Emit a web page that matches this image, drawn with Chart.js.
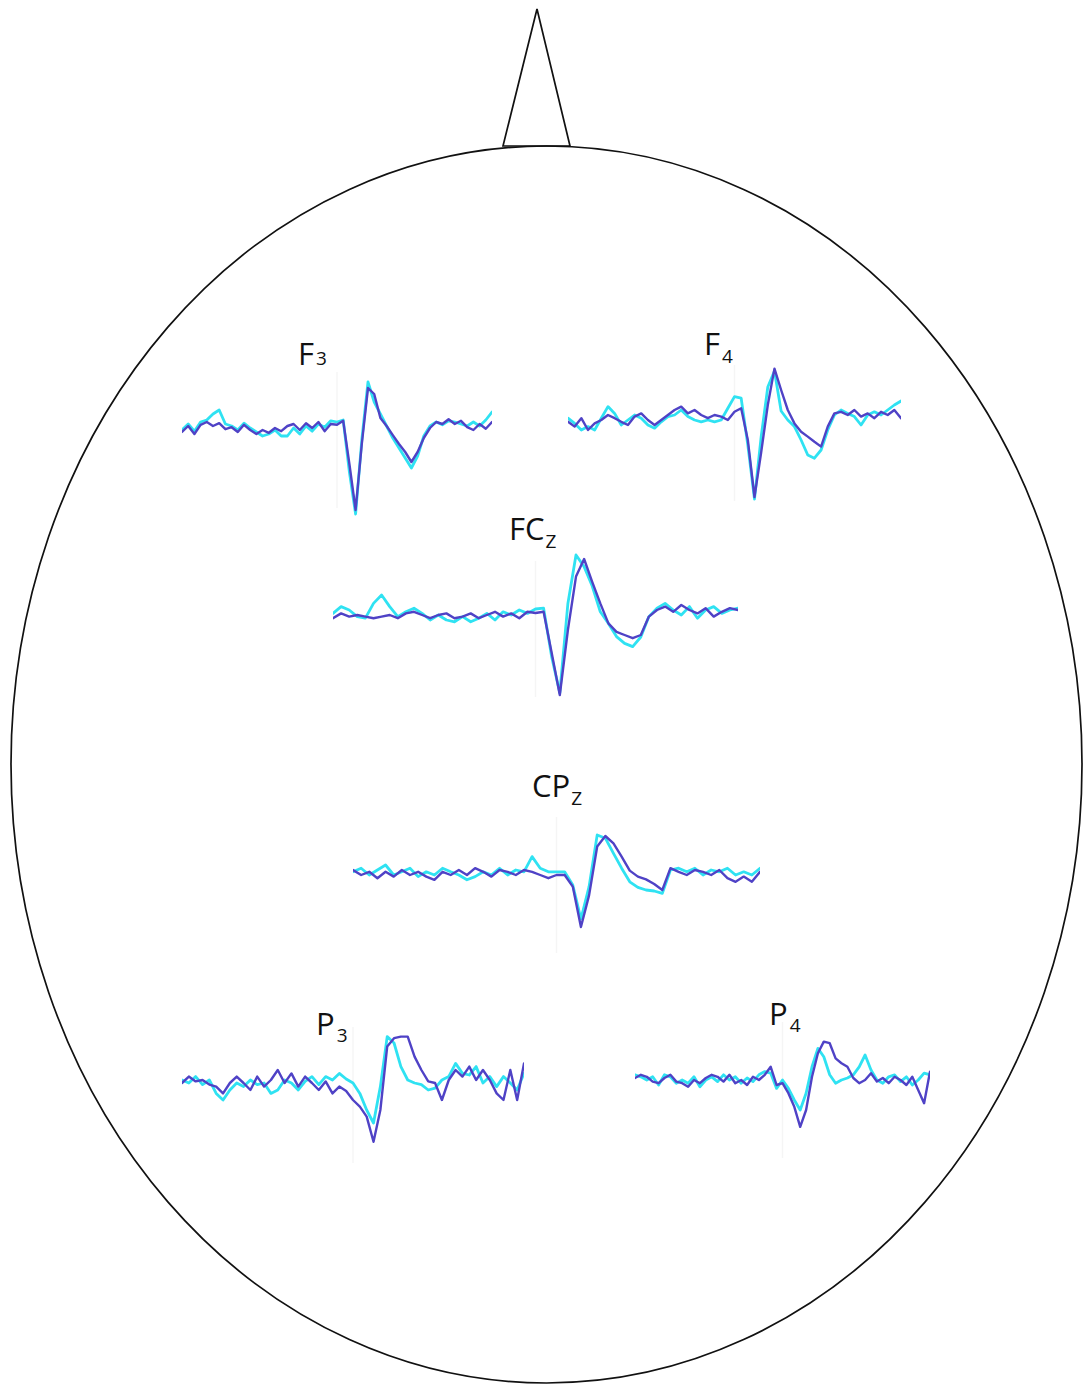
<!DOCTYPE html>
<html>
<head>
<meta charset="utf-8">
<title>Evoked responses on scalp map</title>
<script src="https://cdn.jsdelivr.net/npm/chart.js@4.4.0/dist/chart.umd.min.js"></script>
<style>
    body { margin: 0; background: #fff; }
    #stage { position: relative; width: 1086px; height: 1387px; overflow: hidden; }
    #head { position: absolute; left: 0; top: 0; }
    .trace { position: absolute; }
    .label { font-family: "Open Sans", "DejaVu Sans", sans-serif; fill: #111; }
</style>
</head>
<body>
<div id="stage">
    <svg id="head" width="1086" height="1387" viewBox="0 0 1086 1387">
        <polygon points="503,146 537,9 570,146" fill="none" stroke="#111" stroke-width="1.7" stroke-linejoin="miter"/>
        <ellipse cx="546.5" cy="764.5" rx="535.5" ry="618.5" fill="none" stroke="#111" stroke-width="1.7"/>
        <text class="label" x="298" y="365" font-size="31">F<tspan font-size="19" dx="2" dy="0">3</tspan></text>
        <text class="label" x="704" y="355" font-size="31">F<tspan font-size="19" dx="2" dy="8">4</tspan></text>
        <text class="label" x="509" y="540" font-size="31">FC<tspan font-size="19" dx="1" dy="8">Z</tspan></text>
        <text class="label" x="532" y="797" font-size="31">CP<tspan font-size="19" dx="1" dy="8">Z</tspan></text>
        <text class="label" x="316" y="1035" font-size="31">P<tspan font-size="19" dx="2" dy="7">3</tspan></text>
        <text class="label" x="769" y="1025" font-size="31">P<tspan font-size="19" dx="2" dy="7">4</tspan></text>
    </svg>
</div>
<script>
// --- Data (time in ms relative to stimulus, amplitude in µV) ---
const timeMs = [-250, -240, -230, -220, -210, -200, -190, -180, -170, -160,
    -150, -140, -130, -120, -110, -100, -90, -80, -70, -60,
    -50, -40, -30, -20, -10, 0, 10, 20, 30, 40,
    50, 60, 70, 80, 90, 100, 110, 120, 130, 140,
    150, 160, 170, 180, 190, 200, 210, 220, 230, 240, 250];

const electrodes = ['F3', 'F4', 'FCz', 'CPz', 'P3', 'P4'];

// condition A (dark purple-blue) and condition B (cyan)
const f3Dark = [-1.0, 0.5, -1.5, 0.8, 1.5, 0.5, 1.2, -0.3, 0.2, -1.0, 0.8, -0.5, -1.5, -0.5, -1.2, 0.0, -0.8, 0.5, 1.0, -0.5, 1.2, 0.0, 1.5, -0.8, 1.0,
    0.8, 1.8, -9, -20.5, -4, 10, 8.5, 2.5, 0.5, -1.8, -4, -6, -8.5, -6, -2.5, 0.0, 1.5, 1.0, 2.2, 1.0, 1.8, 0.2, -0.5, 1.0, -0.2, 1.5];
const f3Cyan = [-0.5, 1.0, -0.8, 1.5, 2.0, 3.5, 4.5, 1.0, 0.5, -0.5, 1.2, 0.0, -1.0, -2.0, -1.5, -0.5, -2.0, -2.0, 0.0, -1.5, 0.5, -0.8, 1.0, 0.2, 1.8,
    1.5, 2.0, -11, -21.5, -3, 11.5, 6.5, 3.5, 0.5, -2.5, -5, -7.5, -10, -7, -2, 0.5, 1.5, 0.8, 1.8, 1.5, 1.0, 0.5, 1.5, 0.5, 2.0, 4.0];

const f4Dark = [-0.2, -1.4, 0.7, -2.25, -0.6, 0.25, 1.5, 0.7, -0.2, -1.0, 1.1, 1.9, 0.25, -1.0, 0.25, 1.5, 2.75, 3.6, 1.9, 2.75, 1.5, 0.7, 1.5, 1.1, 0.25,
    2.3, 3.2, -4.75, -19, -7.9, 4, 13.1, 7.75, 2.75, -0.6, -2.7, -3.9, -5.2, -6.4, -1.4, 1.9, 2.3, 1.5, 2.75, 1.1, 1.9, 0.7, 2.3, 1.5, 2.75, 0.7];
const f4Cyan = [0.7, -0.6, -2.25, -1.4, -2.25, 0.7, 3.6, 1.9, -1.0, 0.25, 1.5, 0.7, -1.0, -1.8, -0.2, 1.1, 1.5, 2.75, 1.1, 0.25, -0.2, 0.25, -0.2, 0.25, 3.2,
    6.1, 5.7, -6, -19.5, -4, 8.5, 12.5, 2.5, 0.25, -1.4, -4.75, -8.5, -9.3, -7.25, -2.25, 1.5, 2.75, 1.9, 1.1, -1.0, 1.5, 2.3, 1.5, 2.75, 4.0, 5.0];

const fczDark = [-0.3, 0.9, 0.1, 0.5, 0.1, -0.3, 0.1, 0.5, -0.3, 0.9, 1.3, 0.5, -0.3, 0.5, 0.9, -0.3, 0.1, 0.9, -0.3, 0.5, 1.3, 0.1, 0.9, -0.3, 1.3,
    1.0, 1.3, -9, -19.5, -3.25, 10.1, 14.5, 8.8, 3.4, -1.6, -3.7, -4.5, -5.3, -4.5, 0.1, 1.75, 2.6, 1.3, 3.0, 1.75, 0.9, 2.2, 0.1, 1.3, 2.2, 1.75];
const fczCyan = [0.9, 2.6, 1.75, 0.1, -0.3, 3.4, 5.5, 2.6, 0.1, 1.3, 2.2, 0.9, -0.75, 0.5, -0.75, -1.2, 0.1, -1.2, -0.3, 0.9, -0.75, 1.3, 0.5, 1.75, 0.9,
    2.0, 2.2, -10, -19, 3.4, 15.5, 12.6, 7.75, 1.3, -1.6, -4.9, -6.6, -7.4, -5, 0.1, 2.2, 3.4, 1.75, 0.5, 2.6, -0.3, 1.75, 2.6, 0.9, 1.75, 2.2];

const cpzDark = [0.75, -0.5, 0.3, -1.3, 0.3, -0.9, 0.75, -0.5, 0.3, -0.9, -1.7, 0.3, -0.5, 0.75, -0.5, 1.2, 0.3, -0.9, 0.75, 0.3, -0.5, 0.75, 0.3, -0.5, -1.3,
    -0.5, -0.5, -3.4, -13.5, -5.6, 6.6, 9.25, 7.4, 4.1, 0.6, -0.9, -1.6, -2.75, -4.25, 1.2, 0.3, -0.5, 0.75, 0.3, -0.5, 0.75, -1.3, -2.2, -0.9, -2.2, 0.3];
const cpzCyan = [0.3, 1.2, -0.5, 0.75, 2.0, -0.5, 0.3, 1.2, -0.9, 0.3, -0.5, 1.2, 0.3, -0.5, -1.7, -0.9, 0.3, -0.5, 1.2, -0.5, 0.75, 0.3, 4.1, 1.2, 0.3,
    0.3, 0.3, -3, -11.5, -3.4, 9.5, 8.7, 4.9, 1.2, -2.2, -3.6, -4.25, -4.5, -5.1, 0.75, 1.2, 0.3, 1.2, -0.5, 0.75, 0.3, 1.2, -0.5, 0.3, -0.5, 1.2];

const p3Dark = [0.0, 1.6, 0.4, 0.75, -0.4, -0.9, -2.6, 0.0, 1.6, 0.0, -1.75, 1.6, -0.9, 0.75, 3.25, 0.0, 2.4, -0.9, 1.6, 0.0, -1.75, 0.4, -2.6, -0.9, -2.0,
    -4.25, -5.9, -8.4, -14.7, -6.75, 9.1, 11.2, 11.6, 11.6, 6.6, 3.25, 0.4, 0.0, -4.25, 0.75, 3.25, 1.6, 4.1, 0.75, 3.25, 0.75, -2.6, -4.25, 3.25, -4.25, 4.9];
const p3Cyan = [0.75, 0.0, 1.6, -0.4, 0.75, -2.6, -4.25, -1.75, 0.0, -0.9, 0.75, -0.4, 0.0, -2.6, -1.75, 0.75, 0.0, -1.75, 0.4, 1.6, -0.4, 1.6, 0.75, 2.4, 1.0,
    0.0, -2.6, -6.75, -10, -0.9, 11.6, 10, 4.1, 0.75, 0.0, -0.4, -1.75, -1.3, 0.75, 1.6, 4.9, 2.4, 2.0, 4.1, 0.0, 1.6, -0.9, 1.6, 0.0, -1.75, 2.4];

const p4Dark = [0, 0.8, 0.3, -0.9, -1.3, 0, 0.8, -0.9, -1.3, -2.2, -0.5, -1.3, 0, 0.8, 0.3, -0.9, 0.8, -1.3, -0.5, -1.75, 0.3, -0.5, 0.8, 2.8, -1.75,
    -1.3, -3.8, -7.2, -12.2, -8, 0.3, 6.2, 9.1, 8.7, 4.9, 3.7, 2.8, 0, -1.3, -0.5, 1.2, -0.9, 0, -1.3, 0.3, -0.5, -1.75, 0.3, -3, -6.3, 1.6];
const p4Cyan = [0.8, 0.3, -0.5, 0.3, -1.75, 0.8, 0.3, -1.3, -0.5, -1.3, 0.3, -2.2, -0.5, 0.3, -0.9, 0.8, -0.5, 0.3, -1.3, 0, -0.9, 0.8, 1.6, 1.2, -2.6,
    -0.5, -2.6, -5.5, -8, -3.8, 2.8, 7.4, 5.3, 0.8, -1.3, -0.5, 0, 0.8, 2.8, 5.75, 2.0, -0.5, -1.3, 0.3, 0.8, -0.9, 0.3, -1.75, -0.5, 1.2, 0.8];

const seriesByElectrode = {
    F3: [f3Dark, f3Cyan],
    F4: [f4Dark, f4Cyan],
    FCz: [fczDark, fczCyan],
    CPz: [cpzDark, cpzCyan],
    P3: [p3Dark, p3Cyan],
    P4: [p4Dark, p4Cyan]
};

// --- Layout (pixel box of each trace on the head) ---
const layout = {
    F3: { left: 182, top: 348, width: 310 },
    F4: { left: 568, top: 341, width: 333 },
    FCz: { left: 333, top: 537, width: 405 },
    CPz: { left: 353, top: 793, width: 407 },
    P3: { left: 182, top: 1003, width: 342 },
    P4: { left: 635, top: 998, width: 295 }
};
const TRACE_HEIGHT = 180;   // 4 px per µV over -25..20 µV
const DARK = '#4f42c6';
const CYAN = '#2fe2f2';

// very faint vertical marker at stimulus onset
const stimLinePlugin = {
    id: 'stimLine',
    beforeDatasetsDraw(chart) {
        const { ctx, scales: { x, y } } = chart;
        const px = x.getPixelForValue(0);
        ctx.save();
        ctx.strokeStyle = 'rgba(0,0,0,0.04)';
        ctx.lineWidth = 1.5;
        ctx.beginPath();
        ctx.moveTo(px, y.getPixelForValue(14));
        ctx.lineTo(px, y.getPixelForValue(-20));
        ctx.stroke();
        ctx.restore();
    }
};

function toPoints(values) {
    return values.map((v, i) => ({ x: timeMs[i], y: v }));
}

// --- Chart Rendering ---
const stage = document.getElementById('stage');

electrodes.forEach(name => {
    const box = layout[name];
    const wrap = document.createElement('div');
    wrap.className = 'trace';
    wrap.style.left = box.left + 'px';
    wrap.style.top = box.top + 'px';
    wrap.style.width = box.width + 'px';
    wrap.style.height = TRACE_HEIGHT + 'px';
    const canvas = document.createElement('canvas');
    canvas.width = box.width;
    canvas.height = TRACE_HEIGHT;
    wrap.appendChild(canvas);
    stage.appendChild(wrap);

    const [dark, cyan] = seriesByElectrode[name];

    new Chart(canvas.getContext('2d'), {
        type: 'line',
        data: {
            datasets: [
                { label: name + ' A', data: toPoints(dark), borderColor: DARK, borderWidth: 2.4, clip: false },
                { label: name + ' B', data: toPoints(cyan), borderColor: CYAN, borderWidth: 2.8, clip: false }
            ]
        },
        options: {
            responsive: false,
            animation: false,
            layout: { padding: 0 },
            elements: {
                point: { radius: 0 },
                line: { tension: 0, borderJoinStyle: 'round', borderCapStyle: 'round' }
            },
            scales: {
                x: { type: 'linear', min: -250, max: 250, display: false },
                y: { min: -25, max: 20, display: false }
            },
            plugins: {
                legend: { display: false },
                tooltip: { enabled: false }
            }
        },
        plugins: [stimLinePlugin]
    });
});
</script>
</body>
</html>
